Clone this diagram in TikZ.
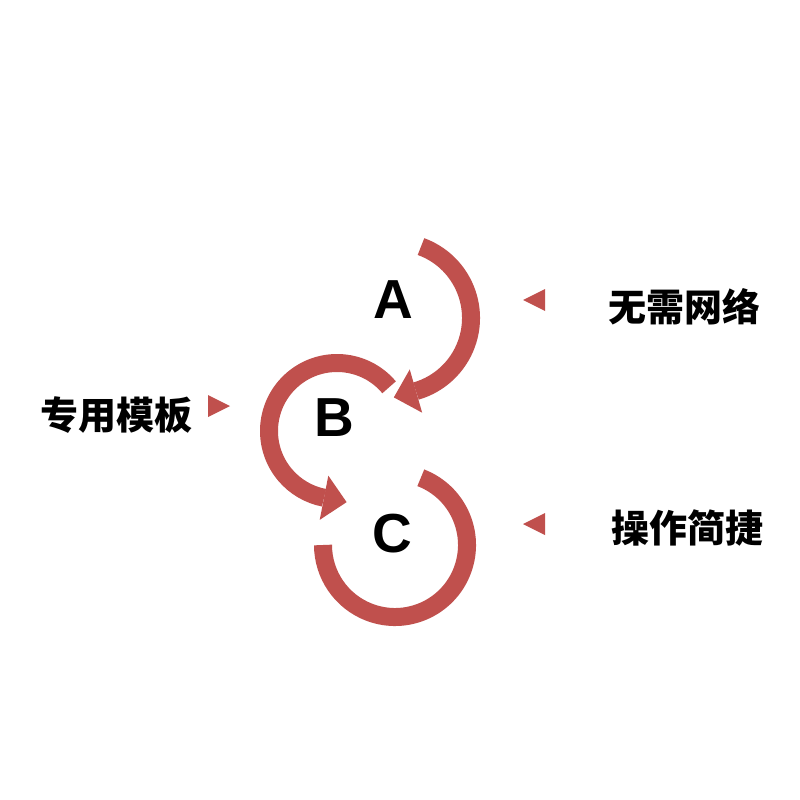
\documentclass[tikz,border=0pt]{standalone}
\usepackage{fontspec}
\setmainfont{Liberation Sans}
\newfontfamily\cjk{Noto Sans CJK SC}
\usetikzlibrary{calc}
\definecolor{arcred}{RGB}{192,80,77}
\begin{document}
\begin{tikzpicture}[x=1pt,y=1pt,
  ring/.style={draw=arcred,line width=18pt,line cap=butt},
  headtip/.style={fill=arcred,draw=none},
  letter/.style={font=\fontsize{55}{60}\selectfont\bfseries,inner sep=0pt},
  label/.style={font=\cjk\bfseries\fontsize{38}{42}\selectfont,inner sep=0pt},
  marker/.style={fill=arcred,draw=none}]
\useasboundingbox (0,0) rectangle (800,-800);
\fill[white] (0,0) rectangle (800,-800);
% centres
\coordinate (cA) at (395,-318);
\coordinate (cB) at (337,-431);
\coordinate (cC) at (395,-545);
% arc A (clockwise, arrow at end)
\draw[ring] ($(cA)+(70:76)$) arc[start angle=70,end angle=-74,radius=76];
\coordinate (aTip) at ($(cA)+(-74:76)+(-164:23)$);
\fill[headtip] ($(cA)+(-74:98.5)$) -- (aTip) -- ($(cA)+(-74:53.5)$) -- cycle;
% arc B (counter-clockwise, arrow at end)
\draw[ring] ($(cB)+(40:68)$) arc[start angle=40,end angle=259,radius=68];
\coordinate (bTip) at ($(cB)+(259:68)+(349:23)$);
\fill[headtip] ($(cB)+(259:90.5)$) -- (bTip) -- ($(cB)+(259:45.5)$) -- cycle;
% arc C
\draw[ring] ($(cC)+(69:72)$) arc[start angle=69,end angle=-180,radius=72];
% letters
\node[letter] (A) at (393,-300) {A};
\node[letter] (B) at (334,-418) {B};
\node[letter] (C) at (392,-534) {C};
% labels
\node[label] (l1) at (684,-307) {无需网络};
\node[label] (l2) at (116,-415) {专用模板};
\node[label] (l3) at (687,-528) {操作简捷};
% markers
\fill[marker] (523,-300) -- (545,-289) -- (545,-311) -- cycle;
\fill[marker] (523,-524) -- (545,-513) -- (545,-535) -- cycle;
\fill[marker] (230,-406) -- (208,-395) -- (208,-417) -- cycle;
\end{tikzpicture}
\end{document}
